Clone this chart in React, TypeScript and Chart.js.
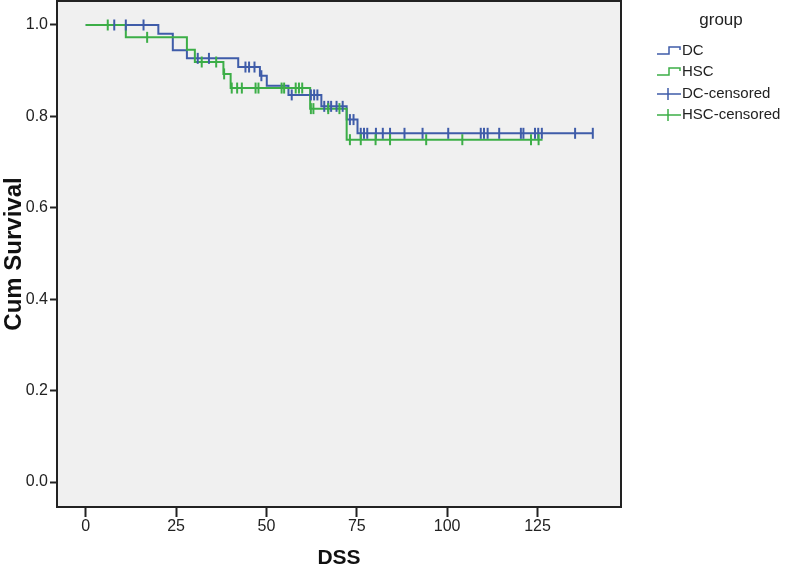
import React, { useEffect, useRef } from "react";
import { Chart, registerables } from "chart.js";

Chart.register(...registerables);

// ---- Data ----
const groupNames = ["DC", "HSC"];
const legendLabels = ["DC", "HSC", "DC-censored", "HSC-censored"];
const legendTitle = "group";
const xTitle = "DSS";
const yTitle = "Cum Survival";

const xTickValues = [0, 25, 50, 75, 100, 125];
const yTickValues = [0, 0.2, 0.4, 0.6, 0.8, 1.0];

// DC: step times and survival after each step (last entry = end of follow-up)
const dcTimes = [0, 20.1, 24.1, 28.0, 42.2, 48.2, 50.1, 56.1, 65.2, 72.2, 75.2, 140.3];
const dcSurv = [1.0, 0.981, 0.945, 0.927, 0.908, 0.889, 0.867, 0.847, 0.822, 0.793, 0.763, 0.763];
const dcCensored = [
  7.9, 11.1, 16.0, 31.0, 34.1, 44.2, 45.2, 46.7, 48.6, 57.0, 62.3, 63.2, 64.1,
  66.0, 67.1, 67.9, 69.4, 71.1, 73.1, 74.1, 76.1, 77.0, 77.9, 80.3, 82.2, 84.2,
  88.2, 93.2, 100.3, 109.3, 110.2, 111.2, 114.4, 120.4, 121.1, 124.3, 125.2,
  126.2, 135.4, 140.3,
];

// HSC
const hscTimes = [0, 11.1, 28.0, 30.2, 38.1, 40.1, 62.1, 72.2, 126.4];
const hscSurv = [1.0, 0.973, 0.946, 0.919, 0.893, 0.862, 0.817, 0.749, 0.749];
const hscCensored = [
  6.1, 17.0, 32.1, 36.1, 38.3, 40.4, 41.9, 43.2, 47.0, 47.8, 54.2, 54.9, 58.1,
  59.0, 59.9, 62.3, 63.0, 67.1, 70.2, 73.1, 76.1, 80.2, 84.2, 94.2, 104.2,
  123.2, 125.3,
];

const dcColor = "#3f5ca9";
const hscColor = "#3cae47";
const colors = [dcColor, hscColor, dcColor, hscColor];

const tickFont = "'Liberation Sans Narrow', 'Arial Narrow', 'Liberation Sans', Arial, sans-serif";
const regularFont = "'Liberation Sans', Arial, sans-serif";

function survAt(times: number[], surv: number[], t: number): number {
  let s = surv[0];
  for (let i = 0; i < times.length; i++) {
    if (times[i] <= t) s = surv[i];
  }
  return s;
}

function stepPoints(times: number[], surv: number[]) {
  return times.map((t, i) => ({ x: t, y: surv[i] }));
}

function censorPoints(times: number[], surv: number[], cens: number[]) {
  return cens.map((t) => ({ x: t, y: survAt(times, surv, t) }));
}

const boxPlugin = {
  id: "boxPlugin",
  beforeDraw(chart: any) {
    const { ctx, chartArea } = chart;
    ctx.save();
    ctx.fillStyle = "#f0f0f0";
    ctx.fillRect(chartArea.left, chartArea.top, chartArea.right - chartArea.left, chartArea.bottom - chartArea.top);
    ctx.restore();
  },
  afterDraw(chart: any) {
    const { ctx, chartArea } = chart;
    ctx.save();
    ctx.strokeStyle = "#222222";
    ctx.lineWidth = 2;
    ctx.strokeRect(chartArea.left, chartArea.top, chartArea.right - chartArea.left, chartArea.bottom - chartArea.top);
    ctx.restore();
  },
};

const legendPlugin = {
  id: "customLegend",
  afterDraw(chart: any) {
    const { ctx } = chart;
    ctx.save();
    ctx.fillStyle = "#222222";
    ctx.textBaseline = "middle";
    ctx.textAlign = "center";
    ctx.font = `17px ${regularFont}`;
    ctx.fillText(legendTitle, 721, 20);
    const rows = [51, 72, 94, 115];
    ctx.textAlign = "left";
    ctx.font = `15px ${regularFont}`;
    legendLabels.forEach((label, i) => {
      const y = rows[i];
      ctx.strokeStyle = colors[i];
      ctx.lineWidth = 1.5;
      ctx.beginPath();
      if (i < 2) {
        ctx.moveTo(657, y + 3);
        ctx.lineTo(669, y + 3);
        ctx.lineTo(669, y - 4);
        ctx.lineTo(680, y - 4);
        ctx.lineTo(680, y - 1);
      } else {
        ctx.moveTo(657, y);
        ctx.lineTo(681, y);
        ctx.moveTo(668, y - 6);
        ctx.lineTo(668, y + 6);
      }
      ctx.stroke();
      ctx.fillStyle = "#222222";
      ctx.fillText(label, 682, y);
    });
    ctx.restore();
  },
};

function zeroPadding(scale: any) {
  scale.paddingTop = 0;
  scale.paddingBottom = 0;
  scale.paddingLeft = 0;
  scale.paddingRight = 0;
}

export default function App() {
  const ref = useRef<HTMLCanvasElement>(null);
  useEffect(() => {
    const canvas = ref.current;
    if (!canvas) return;
    const chart = new Chart(canvas, {
      type: "scatter",
      data: {
        datasets: [
          {
            label: legendLabels[3],
            data: censorPoints(hscTimes, hscSurv, hscCensored),
            showLine: false,
            pointStyle: "line",
            rotation: 90,
            pointRadius: 5.5,
            borderWidth: 2,
            borderColor: hscColor,
            backgroundColor: hscColor,
            order: 0,
          },
          {
            label: legendLabels[2],
            data: censorPoints(dcTimes, dcSurv, dcCensored),
            showLine: false,
            pointStyle: "line",
            rotation: 90,
            pointRadius: 5.5,
            borderWidth: 2,
            borderColor: dcColor,
            backgroundColor: dcColor,
            order: 1,
          },
          {
            label: groupNames[1],
            data: stepPoints(hscTimes, hscSurv),
            showLine: true,
            stepped: "before",
            pointRadius: 0,
            borderWidth: 2,
            borderColor: hscColor,
            backgroundColor: hscColor,
            fill: false,
            order: 2,
          },
          {
            label: groupNames[0],
            data: stepPoints(dcTimes, dcSurv),
            showLine: true,
            stepped: "before",
            pointRadius: 0,
            borderWidth: 2,
            borderColor: dcColor,
            backgroundColor: dcColor,
            fill: false,
            order: 3,
          },
        ],
      } as any,
      options: {
        responsive: false,
        animation: false,
        events: [],
        layout: { autoPadding: false, padding: { left: 0, top: 1, right: 166, bottom: 0 } },
        plugins: { legend: { display: false }, tooltip: { enabled: false } },
        scales: {
          x: {
            type: "linear",
            min: -7.94,
            max: 148.1,
            afterBuildTicks: (scale: any) => {
              scale.ticks = xTickValues.map((v) => ({ value: v }));
            },
            afterFit: (scale: any) => {
              scale.height = 64;
              zeroPadding(scale);
            },
            border: { display: false },
            grid: {
              display: true,
              drawOnChartArea: false,
              drawTicks: true,
              tickLength: 10,
              tickWidth: 2,
              tickColor: "#222222",
            },
            ticks: {
              padding: 0,
              color: "#222222",
              font: { family: tickFont, size: 16 },
              callback: (v: any) => String(v),
            },
            title: {
              display: true,
              text: xTitle,
              color: "#111111",
              font: { family: regularFont, size: 21, weight: "bold" },
              padding: { top: 0, bottom: 0 },
            },
          },
          y: {
            type: "linear",
            min: -0.0547,
            max: 1.0525,
            afterBuildTicks: (scale: any) => {
              scale.ticks = yTickValues.map((v) => ({ value: v }));
            },
            afterFit: (scale: any) => {
              scale.width = 57;
              zeroPadding(scale);
            },
            border: { display: false },
            grid: {
              display: true,
              drawOnChartArea: false,
              drawTicks: true,
              tickLength: 7,
              tickWidth: 2,
              tickColor: "#222222",
            },
            ticks: {
              padding: 2,
              color: "#222222",
              font: { family: tickFont, size: 16 },
              callback: (v: any) => Number(v).toFixed(1),
            },
            title: {
              display: true,
              text: yTitle,
              color: "#111111",
              font: { family: regularFont, size: 24, weight: "bold" },
              padding: { top: 0, bottom: 0 },
            },
          },
        },
      } as any,
      plugins: [boxPlugin, legendPlugin],
    });
    return () => chart.destroy();
  }, []);
  return (
    <div style={{ position: "absolute", left: 0, top: 0, width: 787, height: 571 }}>
      <canvas ref={ref} width={787} height={571} style={{ display: "block", width: 787, height: 571 }} />
    </div>
  );
}
